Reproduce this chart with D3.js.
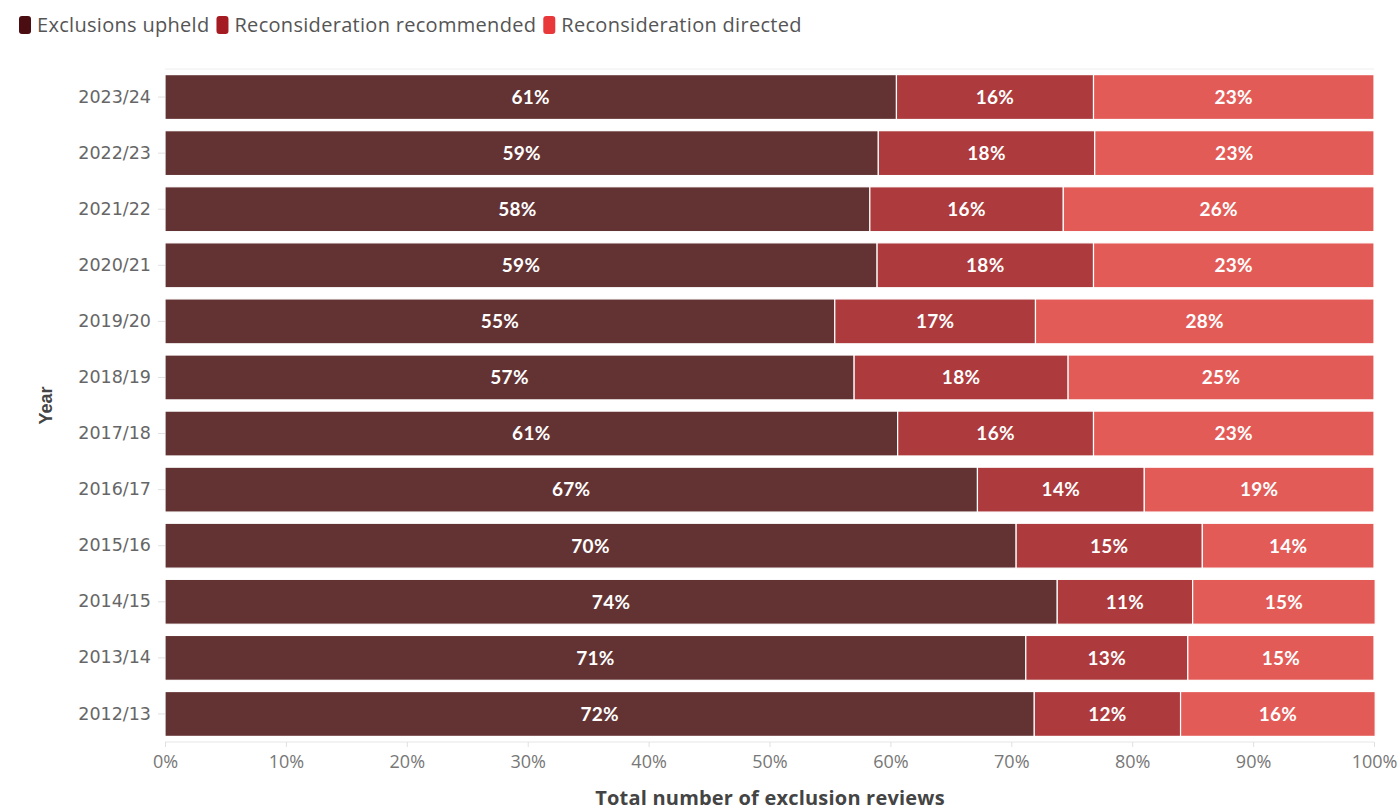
<!DOCTYPE html>
<html><head><meta charset="utf-8">
<script src="https://cdn.jsdelivr.net/npm/d3@7"></script>
<style>body{margin:0;background:#fff;}svg{display:block;}</style>
</head><body><svg id="c" width="1398" height="812"></svg>
<script>
const years = ["2023/24","2022/23","2021/22","2020/21","2019/20","2018/19","2017/18","2016/17","2015/16","2014/15","2013/14","2012/13"];
const upheld      = [60.5,59.0,58.3,58.9,55.4,57.0,60.6,67.2,70.4,73.8,71.2,71.9];
const recommended = [16.3,17.9,16.0,17.9,16.6,17.7,16.2,13.8,15.4,11.2,13.4,12.1];
const directed    = [23.2,23.1,25.7,23.2,28.0,25.3,23.2,19.0,14.2,15.1,15.4,16.1];
const seriesNames = ["Exclusions upheld","Reconsideration recommended","Reconsideration directed"];
const xTicks = [0,10,20,30,40,50,60,70,80,90,100];

const barColors = ["#633334","#ad3a3c","#e35b57"];
const legendColors = ["#4a0d12","#a51b22","#e8383a"];

const svg = d3.select("#c");
const L = 165, R = 1374, T = 69, B = 742;
const x = d3.scaleLinear().domain([0,100]).range([L,R]);
const y = d3.scaleBand().domain(years).range([T,B]).paddingInner(0.2).paddingOuter(0.1);

const rows = years.map((yr,i)=>({year:yr, vals:[upheld[i],recommended[i],directed[i]]}));

// frame lines
svg.append("line").attr("x1",L).attr("x2",R).attr("y1",T).attr("y2",T).attr("stroke","#eee").attr("stroke-width",1);
svg.append("line").attr("x1",L).attr("x2",R).attr("y1",B).attr("y2",B).attr("stroke","#e6e6e6").attr("stroke-width",1);

// bars
const g = svg.append("g");
rows.forEach(r=>{
  let acc = 0;
  r.vals.forEach((v,k)=>{
    const x0 = x(acc), x1 = x(acc+v);
    g.append("rect").attr("x",x0).attr("y",y(r.year)).attr("width",x1-x0).attr("height",y.bandwidth())
      .attr("fill",barColors[k]).attr("stroke","#fff").attr("stroke-width",1.2);
    g.append("text").attr("x",(x0+x1)/2).attr("y",y(r.year)+y.bandwidth()/2)
      .attr("dy","0.36em").attr("text-anchor","middle").attr("fill","#fff")
      .attr("font-family","Lato, 'Open Sans', sans-serif").attr("font-weight","bold").attr("font-size",19)
      .attr("letter-spacing",0.3)
      .text(Math.round(v)+"%");
    acc += v;
  });
});

// x axis
const xa = svg.append("g").attr("transform",`translate(0,${B})`)
  .call(d3.axisBottom(x).tickValues(xTicks).tickFormat(d=>d+"%").tickSize(5).tickPadding(8));
xa.select(".domain").remove();
xa.selectAll("line").attr("stroke","#e0e0e0");
xa.selectAll("text").attr("font-family","'Open Sans', sans-serif").attr("font-size",18).attr("fill","#777");

// y axis
const ya = svg.append("g").attr("transform",`translate(${L},0)`)
  .call(d3.axisLeft(y).tickSize(7).tickPadding(7));
ya.select(".domain").remove();
ya.selectAll("line").attr("stroke","#e0e0e0");
ya.selectAll("text").attr("font-family","'DejaVu Sans', sans-serif").attr("font-size",17.5).attr("fill","#666");

// axis titles
svg.append("text").attr("x",770).attr("y",805).attr("text-anchor","middle")
  .attr("font-family","'Open Sans', sans-serif").attr("font-weight","bold").attr("font-size",20)
  .attr("letter-spacing",0.2).attr("fill","#444")
  .text("Total number of exclusion reviews");
svg.append("text").attr("transform",`translate(52,${(T+B)/2}) rotate(-90)`).attr("text-anchor","middle")
  .attr("font-family","'Liberation Sans', Arial, sans-serif").attr("font-weight","bold").attr("font-size",18).attr("fill","#444")
  .text("Year");

// legend
const lg = svg.append("g");
let lx = 19;
seriesNames.forEach((n,k)=>{
  lg.append("rect").attr("x",lx).attr("y",16).attr("width",12).attr("height",18).attr("rx",3)
    .attr("fill",legendColors[k]);
  const t = lg.append("text").attr("x",lx+18).attr("y",25).attr("dy","0.35em")
    .attr("font-family","'Open Sans', sans-serif").attr("font-size",20).attr("letter-spacing",0.3)
    .attr("fill","#555").text(n);
  lx += 18 + t.node().getComputedTextLength() + 7;
});
</script></body></html>
